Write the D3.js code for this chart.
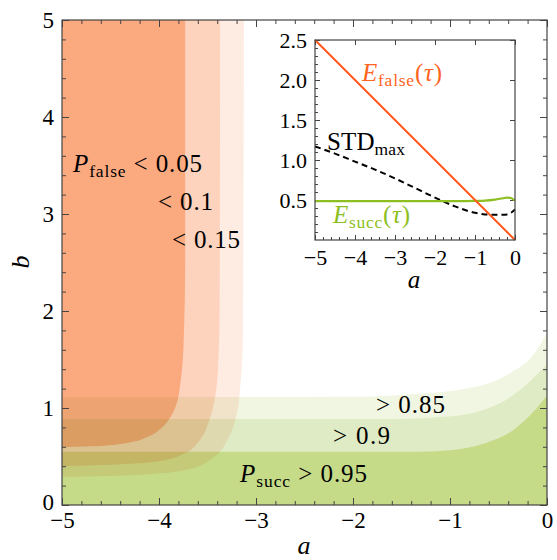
<!DOCTYPE html>
<html>
  <head>
    <meta charset="utf-8">
    <title>P_false / P_succ regions</title>
    <script src="https://d3js.org/d3.v7.min.js"></script>
    <style>
      body { margin: 0; background: #fff; }
    </style>
  </head>
  <body>
    <div id="chart"></div>

    <script type="text/javascript">
      // ---- data ----
      // boundaries of the P_false regions, points as [a, b] (ordered by b)
      var falseLevels = ['< 0.05', '< 0.1', '< 0.15'];
      var falseEdge005 = [[-5, 0.595], [-4.68, 0.605], [-4.33, 0.64], [-4.12, 0.7], [-3.99, 0.78], [-3.9, 0.88],
                          [-3.83, 1.01], [-3.78, 1.25], [-3.745, 1.7], [-3.73, 2.5], [-3.73, 5]];
      var falseEdge010 = [[-5, 0.40], [-4.5, 0.415], [-4.0, 0.45], [-3.74, 0.53], [-3.58, 0.67], [-3.48, 0.88],
                          [-3.42, 1.12], [-3.39, 1.45], [-3.375, 2], [-3.37, 5]];
      var falseEdge015 = [[-5, 0.29], [-4.2, 0.31], [-3.68, 0.37], [-3.44, 0.49], [-3.29, 0.68], [-3.2, 0.93],
                          [-3.16, 1.25], [-3.135, 1.8], [-3.125, 5]];

      // boundaries of the P_succ regions, points as [a, b] (ordered by a)
      var succLevels = ['> 0.95', '> 0.9', '> 0.85'];
      var succEdge095 = [[-5, 0.55], [-1.3, 0.55], [-1.0, 0.565], [-0.63, 0.64], [-0.35, 0.77], [-0.15, 0.95], [0, 1.13]];
      var succEdge090 = [[-5, 0.887], [-1.6, 0.887], [-1.2, 0.9], [-0.83, 0.935], [-0.6, 1.0], [-0.38, 1.11], [-0.18, 1.27], [0, 1.45]];
      var succEdge085 = [[-5, 1.11], [-2, 1.115], [-1.5, 1.135], [-0.83, 1.2], [-0.38, 1.36], [-0.14, 1.55], [0, 1.77]];

      // inset curves
      var insetA      = [-5, -4.5, -4, -3.5, -3, -2.5, -2, -1.5, -1, -0.75, -0.5, -0.3, -0.2, -0.1, 0];
      var eFalse      = [2.5, 2.25, 2.0, 1.75, 1.5, 1.25, 1.0, 0.75, 0.5, 0.375, 0.25, 0.15, 0.1, 0.05, 0];
      var eSucc       = [0.485, 0.485, 0.485, 0.485, 0.485, 0.485, 0.485, 0.485, 0.488, 0.492, 0.505, 0.522, 0.53, 0.525, 0.49];
      var stdMax      = [1.17, 1.08, 0.98, 0.88, 0.77, 0.65, 0.53, 0.42, 0.34, 0.32, 0.315, 0.315, 0.32, 0.34, 0.38];

      // ticks
      var mainXTicks = [-5, -4, -3, -2, -1, 0];
      var mainYTicks = [0, 1, 2, 3, 4, 5];
      var insetXTicks = [-5, -4, -3, -2, -1, 0];
      var insetYTicks = [0.5, 1.0, 1.5, 2.0, 2.5];

      // ---- layout ----
      var W = 557, H = 560;
      var plot = {left: 62, right: 547, top: 20, bottom: 505};
      var inset = {left: 315, right: 515, top: 40, bottom: 240};
      var serif = 'Liberation Serif';

      var orangeFills = ['#fbaa80', '#fdd3bd', '#feece2'];
      var greenFills  = ['#c5db87', '#dfebc4', '#f1f6e3'];

      var svg = d3.select('#chart').append('svg')
          .attr('width', W)
          .attr('height', H)
          .attr('font-family', serif);

      var x = d3.scaleLinear().domain([-5, 0]).range([plot.left, plot.right]);
      var y = d3.scaleLinear().domain([0, 5]).range([plot.bottom, plot.top]);

      svg.append('clipPath').attr('id', 'plotclip')
        .append('rect')
          .attr('x', plot.left).attr('y', plot.top)
          .attr('width', plot.right - plot.left).attr('height', plot.bottom - plot.top);

      var regions = svg.append('g').attr('clip-path', 'url(#plotclip)');

      // green regions (lightest first)
      var succArea = d3.area()
          .x(function(d) { return x(d[0]); })
          .y0(y(0))
          .y1(function(d) { return y(d[1]); })
          .curve(d3.curveMonotoneX);

      var succEdges = [succEdge095, succEdge090, succEdge085];
      var gGreen = regions.append('g');
      [2, 1, 0].forEach(function(i) {
        gGreen.append('path')
          .attr('d', succArea(succEdges[i]))
          .attr('fill', greenFills[i]);
      });

      // orange regions, multiplied on top of the green
      var falseArea = d3.area()
          .y(function(d) { return y(d[1]); })
          .x0(x(-5))
          .x1(function(d) { return x(d[0]); })
          .curve(d3.curveMonotoneY);

      var falseEdges = [falseEdge005, falseEdge010, falseEdge015];
      var gOrange = regions.append('g').style('mix-blend-mode', 'multiply');
      [2, 1, 0].forEach(function(i) {
        gOrange.append('path')
          .attr('d', falseArea(falseEdges[i]))
          .attr('fill', orangeFills[i]);
      });

      // ---- main axes: ticks inward on all four sides ----
      function minorTicks(step, lo, hi) {
        return d3.range(lo, hi + 1e-9, step).filter(function(v) {
          return Math.abs(v - Math.round(v)) > 1e-6;
        });
      }
      var xMinor = minorTicks(0.2, -5, 0);
      var yMinor = minorTicks(0.2, 0, 5);

      function styleAxis(g) {
        g.attr('font-family', serif);
        g.select('.domain').remove();
        g.selectAll('line').attr('stroke', '#444').attr('stroke-width', 1);
        g.selectAll('text').attr('font-size', 23).attr('fill', '#000');
      }

      svg.append('g').attr('transform', 'translate(0,' + plot.bottom + ')')
        .call(d3.axisBottom(x).tickValues(mainXTicks).tickSize(-7).tickPadding(7).tickFormat(d3.format('d')))
        .call(styleAxis);
      svg.append('g').attr('transform', 'translate(0,' + plot.bottom + ')')
        .call(d3.axisBottom(x).tickValues(xMinor).tickSize(-4).tickFormat(''))
        .call(styleAxis);
      svg.append('g').attr('transform', 'translate(0,' + plot.top + ')')
        .call(d3.axisTop(x).tickValues(mainXTicks).tickSize(-7).tickFormat(''))
        .call(styleAxis);
      svg.append('g').attr('transform', 'translate(0,' + plot.top + ')')
        .call(d3.axisTop(x).tickValues(xMinor).tickSize(-4).tickFormat(''))
        .call(styleAxis);

      svg.append('g').attr('transform', 'translate(' + plot.left + ',0)')
        .call(d3.axisLeft(y).tickValues(mainYTicks).tickSize(-7).tickPadding(8).tickFormat(d3.format('d')))
        .call(styleAxis)
        .selectAll('text').attr('dy', function(d) { return d === 0 ? '0.2em' : '0.32em'; });
      svg.append('g').attr('transform', 'translate(' + plot.left + ',0)')
        .call(d3.axisLeft(y).tickValues(yMinor).tickSize(-4).tickFormat(''))
        .call(styleAxis);
      svg.append('g').attr('transform', 'translate(' + plot.right + ',0)')
        .call(d3.axisRight(y).tickValues(mainYTicks).tickSize(-7).tickFormat(''))
        .call(styleAxis);
      svg.append('g').attr('transform', 'translate(' + plot.right + ',0)')
        .call(d3.axisRight(y).tickValues(yMinor).tickSize(-4).tickFormat(''))
        .call(styleAxis);

      svg.append('rect')
        .attr('x', plot.left).attr('y', plot.top)
        .attr('width', plot.right - plot.left).attr('height', plot.bottom - plot.top)
        .attr('fill', 'none').attr('stroke', '#444').attr('stroke-width', 1.2);

      // axis titles
      svg.append('text')
        .attr('x', 304).attr('y', 554)
        .attr('text-anchor', 'middle')
        .attr('font-size', 26).attr('font-style', 'italic')
        .text('a');
      svg.append('text')
        .attr('transform', 'translate(29,262) rotate(-90)')
        .attr('text-anchor', 'middle')
        .attr('font-size', 26).attr('font-style', 'italic')
        .text('b');

      // ---- region labels ----
      function label(parent, px, py, size, color, width, parts) {
        var t = parent.append('text')
          .attr('x', px).attr('y', py)
          .attr('font-size', size)
          .attr('fill', color)
          .attr('textLength', width)
          .attr('lengthAdjust', 'spacing');
        var shift = 0;
        parts.forEach(function(p) {
          var s = t.append('tspan').text(p.t).attr('fill', color);
          if (p.italic) s.attr('font-style', 'italic');
          if (p.sub) {
            s.attr('font-size', size * 0.7).attr('dy', 5 - shift);
            shift = 5;
          } else {
            s.attr('dy', -shift);
            shift = 0;
          }
        });
        return t;
      }

      label(svg, 73, 172, 25, '#000', 129, [{t: 'P', italic: true}, {t: 'false', sub: true}, {t: ' ' + falseLevels[0]}]);
      label(svg, 158, 210, 25, '#000', 55, [{t: falseLevels[1]}]);
      label(svg, 172, 248, 25, '#000', 68, [{t: falseLevels[2]}]);

      label(svg, 376, 413, 25, '#000', 69, [{t: succLevels[2]}]);
      label(svg, 333, 444, 25, '#000', 57, [{t: succLevels[1]}]);
      label(svg, 240, 482, 25, '#000', 127, [{t: 'P', italic: true}, {t: 'succ', sub: true}, {t: ' ' + succLevels[0]}]);

      // ---- inset ----
      var xi = d3.scaleLinear().domain([-5, 0]).range([inset.left, inset.right]);
      var yi = d3.scaleLinear().domain([0, 2.5]).range([inset.bottom, inset.top]);

      svg.append('rect')
        .attr('x', inset.left).attr('y', inset.top)
        .attr('width', inset.right - inset.left).attr('height', inset.bottom - inset.top)
        .attr('fill', '#fff');

      var ixMinor = minorTicks(0.2, -5, 0);
      var iyMinor = d3.range(0.1, 2.5, 0.1).filter(function(v) {
        return Math.abs(v * 2 - Math.round(v * 2)) > 1e-6;
      });

      function styleInset(g) {
        g.attr('font-family', serif);
        g.select('.domain').remove();
        g.selectAll('line').attr('stroke', '#444').attr('stroke-width', 1);
        g.selectAll('text').attr('font-size', 22).attr('fill', '#000');
      }

      svg.append('g').attr('transform', 'translate(0,' + inset.bottom + ')')
        .call(d3.axisBottom(xi).tickValues(insetXTicks).tickSize(-5).tickPadding(9).tickFormat(d3.format('d')))
        .call(styleInset);
      svg.append('g').attr('transform', 'translate(0,' + inset.bottom + ')')
        .call(d3.axisBottom(xi).tickValues(ixMinor).tickSize(-3).tickFormat(''))
        .call(styleInset);
      svg.append('g').attr('transform', 'translate(0,' + inset.top + ')')
        .call(d3.axisTop(xi).tickValues(insetXTicks).tickSize(-5).tickFormat(''))
        .call(styleInset);
      svg.append('g').attr('transform', 'translate(' + inset.left + ',0)')
        .call(d3.axisLeft(yi).tickValues(insetYTicks).tickSize(-5).tickPadding(8).tickFormat(d3.format('.1f')))
        .call(styleInset);
      svg.append('g').attr('transform', 'translate(' + inset.left + ',0)')
        .call(d3.axisLeft(yi).tickValues(iyMinor).tickSize(-3).tickFormat(''))
        .call(styleInset);
      svg.append('g').attr('transform', 'translate(' + inset.right + ',0)')
        .call(d3.axisRight(yi).tickValues(insetYTicks).tickSize(-5).tickFormat(''))
        .call(styleInset);

      var insetLine = function(values) {
        return d3.line()
          .x(function(d, i) { return xi(insetA[i]); })
          .y(function(d) { return yi(d); })
          .curve(d3.curveMonotoneX)(values);
      };

      svg.append('path').attr('d', insetLine(stdMax))
        .attr('fill', 'none').attr('stroke', '#000').attr('stroke-width', 2)
        .attr('stroke-dasharray', '6,4');
      svg.append('path').attr('d', insetLine(eSucc))
        .attr('fill', 'none').attr('stroke', '#8dbf22').attr('stroke-width', 2.2);
      svg.append('path').attr('d', insetLine(eFalse))
        .attr('fill', 'none').attr('stroke', '#ff5a1c').attr('stroke-width', 2);

      svg.append('rect')
        .attr('x', inset.left).attr('y', inset.top)
        .attr('width', inset.right - inset.left).attr('height', inset.bottom - inset.top)
        .attr('fill', 'none').attr('stroke', '#444').attr('stroke-width', 1.2);

      svg.append('text')
        .attr('x', 414).attr('y', 288)
        .attr('text-anchor', 'middle')
        .attr('font-size', 25).attr('font-style', 'italic')
        .text('a');

      label(svg, 362, 81, 25, '#ff6422', 80, [{t: 'E', italic: true}, {t: 'false', sub: true}, {t: '('}, {t: '\u03c4', italic: true}, {t: ')'}]);
      label(svg, 327, 150, 25, '#000', 78, [{t: 'STD'}, {t: 'max', sub: true}]);
      label(svg, 333, 223, 25, '#8dbf22', 77, [{t: 'E', italic: true}, {t: 'succ', sub: true}, {t: '('}, {t: '\u03c4', italic: true}, {t: ')'}]);
    </script>
  </body>
</html>
